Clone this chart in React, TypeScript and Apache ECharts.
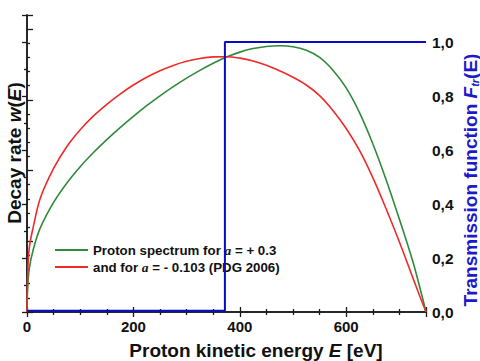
import React, { useEffect, useRef } from "react";
import * as echarts from "echarts";

const energy = [0, 1, 4, 12, 25, 50, 75, 100, 125, 150, 175, 200, 225, 250, 275, 300, 325, 350, 375, 400, 425, 450, 475, 500, 525, 550, 575, 600, 625, 650, 675, 700, 725, 740, 750];
const greenRate = [0, 0.3, 0.6, 0.89, 1.19, 1.55, 1.825, 2.055, 2.255, 2.4375, 2.6075, 2.7675, 2.9175, 3.0575, 3.1875, 3.3075, 3.4175, 3.5175, 3.605, 3.675, 3.725, 3.755, 3.765, 3.75, 3.7, 3.6, 3.42, 3.17, 2.82, 2.38, 1.87, 1.31, 0.72, 0.3, 0];
const redRate = [0, 0.45, 0.89, 1.21, 1.61, 2.03, 2.34, 2.5775, 2.7725, 2.9375, 3.0825, 3.21, 3.32, 3.4125, 3.4875, 3.545, 3.585, 3.6075, 3.61, 3.59, 3.55, 3.49, 3.41, 3.32, 3.21, 3.06, 2.85, 2.595, 2.285, 1.9, 1.46, 0.99, 0.49, 0.19, 0];
const transE = [0, 372, 372, 750];
const transF = [0.005, 0.005, 1, 1];
const xTicks = [0, 200, 400, 600];
const rightTicks = ["0,0", "0,2", "0,4", "0,6", "0,8", "1,0"];

const FONT = "'Liberation Sans', Arial, sans-serif";
const AX = "#1a1a1a";
const BLUE = "#1a1acc";

export default function App() {
  const ref = useRef<HTMLDivElement>(null);
  useEffect(() => {
    if (!ref.current) return;
    const chart = echarts.init(ref.current, null, { renderer: "svg" });
    const tickStyle = { color: AX, width: 1.3 };
    chart.setOption({
      animation: false,
      backgroundColor: "#ffffff",
      grid: { left: 27, right: 54, top: 15, bottom: 49, containLabel: false },
      legend: {
        left: 55,
        top: 243,
        padding: 0,
        orient: "vertical",
        itemGap: 3,
        itemWidth: 33,
        itemHeight: 2,
        icon: "rect",
        data: ["green", "red"],
        formatter: (name: string) =>
          name === "green"
            ? "{b|Proton spectrum for }{a|a}{b| = + 0.3}"
            : "{b|and for }{a|a}{b| = - 0.103 (PDG 2006)}",
        textStyle: {
          padding: [0, 0, 0, 0],
          rich: {
            b: { fontFamily: FONT, fontWeight: "bold", fontSize: 13.3, color: "#111" },
            a: { fontFamily: "'Liberation Serif', serif", fontStyle: "italic", fontWeight: "bold", fontSize: 13.5, color: "#111" },
          },
        },
      },
      xAxis: [
        {
          type: "value",
          min: 0,
          max: 750,
          interval: 200,
          position: "bottom",
          axisLine: { lineStyle: { color: AX, width: 1.5 } },
          axisTick: { inside: true, length: 5, lineStyle: tickStyle },
          minorTick: { show: true, splitNumber: 4, length: 3, lineStyle: tickStyle },
          splitLine: { show: false },
          axisLabel: {
            showMaxLabel: false,
            margin: 7,
            fontFamily: FONT,
            fontWeight: "bold",
            fontSize: 15,
            color: "#111",
            formatter: (v: number) => (xTicks.includes(v) ? String(v) : ""),
          },
        },
        {
          type: "value",
          min: 0,
          max: 750,
          interval: 200,
          position: "top",
          axisLine: { lineStyle: { color: AX, width: 1.5 } },
          axisTick: { inside: true, length: 5, lineStyle: tickStyle },
          minorTick: { show: true, splitNumber: 4, length: 3, lineStyle: tickStyle },
          splitLine: { show: false },
          axisLabel: { show: false },
        },
      ],
      yAxis: [
        {
          type: "value",
          min: 0,
          max: 4.2,
          interval: 1,
          position: "left",
          axisLine: { show: true, lineStyle: { color: AX, width: 1.5 } },
          axisTick: { show: true, inside: true, length: 6, lineStyle: tickStyle },
          minorTick: { show: true, splitNumber: 5, length: 3, lineStyle: tickStyle },
          splitLine: { show: false },
          axisLabel: { show: false },
        },
        {
          type: "value",
          min: 0,
          max: 1.1,
          interval: 0.2,
          position: "right",
          axisLine: { show: true, lineStyle: { color: AX, width: 1.5 } },
          axisTick: { show: true, inside: true, length: 5, lineStyle: tickStyle },
          minorTick: { show: true, splitNumber: 2, length: 3, lineStyle: tickStyle },
          splitLine: { show: false },
          axisLabel: {
            showMaxLabel: false,
            margin: 6,
            fontFamily: FONT,
            fontWeight: "bold",
            fontSize: 15.5,
            color: "#111",
            formatter: (v: number) => {
              const i = Math.round(v / 0.2);
              return Math.abs(v - i * 0.2) < 1e-6 && rightTicks[i] ? rightTicks[i] : "";
            },
          },
        },
      ],
      series: [
        {
          name: "green",
          type: "line",
          xAxisIndex: 0,
          yAxisIndex: 0,
          data: energy.map((e, i) => [e, greenRate[i]]),
          smooth: 0.35,
          showSymbol: false,
          lineStyle: { color: "#2f8a3a", width: 1.6 },
          itemStyle: { color: "#2f8a3a" },
          z: 3,
        },
        {
          name: "red",
          type: "line",
          xAxisIndex: 0,
          yAxisIndex: 0,
          data: energy.map((e, i) => [e, redRate[i]]),
          smooth: 0.35,
          showSymbol: false,
          lineStyle: { color: "#ee2a2a", width: 1.6 },
          itemStyle: { color: "#ee2a2a" },
          z: 3,
        },
        {
          name: "trans",
          type: "line",
          xAxisIndex: 0,
          yAxisIndex: 1,
          data: transE.map((e, i) => [e, transF[i]]),
          showSymbol: false,
          lineStyle: { color: "#0b0bc4", width: 2 },
          z: 4,
        },
      ],
      graphic: [
        {
          type: "text",
          x: 14,
          y: 153,
          rotation: Math.PI / 2,
          style: {
            text: "{b|Decay rate }{i|w}{b|(}{i|E}{b|)}",
            align: "center",
            verticalAlign: "middle",
            rich: {
              b: { fontFamily: FONT, fontWeight: "bold", fontSize: 19, fill: "#111" },
              i: { fontFamily: FONT, fontWeight: "bold", fontStyle: "italic", fontSize: 19, fill: "#111" },
            },
          },
        },
        {
          type: "text",
          x: 470,
          y: 180,
          rotation: Math.PI / 2,
          style: {
            text: "{b|Transmission function }{i|F}{s|tr}{b|(E)}",
            align: "center",
            verticalAlign: "middle",
            rich: {
              b: { fontFamily: FONT, fontWeight: "bold", fontSize: 19, fill: BLUE },
              i: { fontFamily: FONT, fontWeight: "bold", fontStyle: "italic", fontSize: 19, fill: BLUE },
              s: { fontFamily: FONT, fontWeight: "bold", fontStyle: "italic", fontSize: 11, fill: BLUE, padding: [9, 0, 0, 0] },
            },
          },
        },
        {
          type: "text",
          x: 256,
          y: 350,
          style: {
            text: "{b|Proton kinetic energy }{i|E}{b| [eV]}",
            align: "center",
            verticalAlign: "middle",
            rich: {
              b: { fontFamily: FONT, fontWeight: "bold", fontSize: 19, fill: "#111" },
              i: { fontFamily: FONT, fontWeight: "bold", fontStyle: "italic", fontSize: 19, fill: "#111" },
            },
          },
        },
      ],
    });
    return () => chart.dispose();
  }, []);
  return (
    <div
      ref={ref}
      style={{ position: "fixed", left: 0, top: 0, width: 480, height: 361, background: "#fff" }}
    />
  );
}
